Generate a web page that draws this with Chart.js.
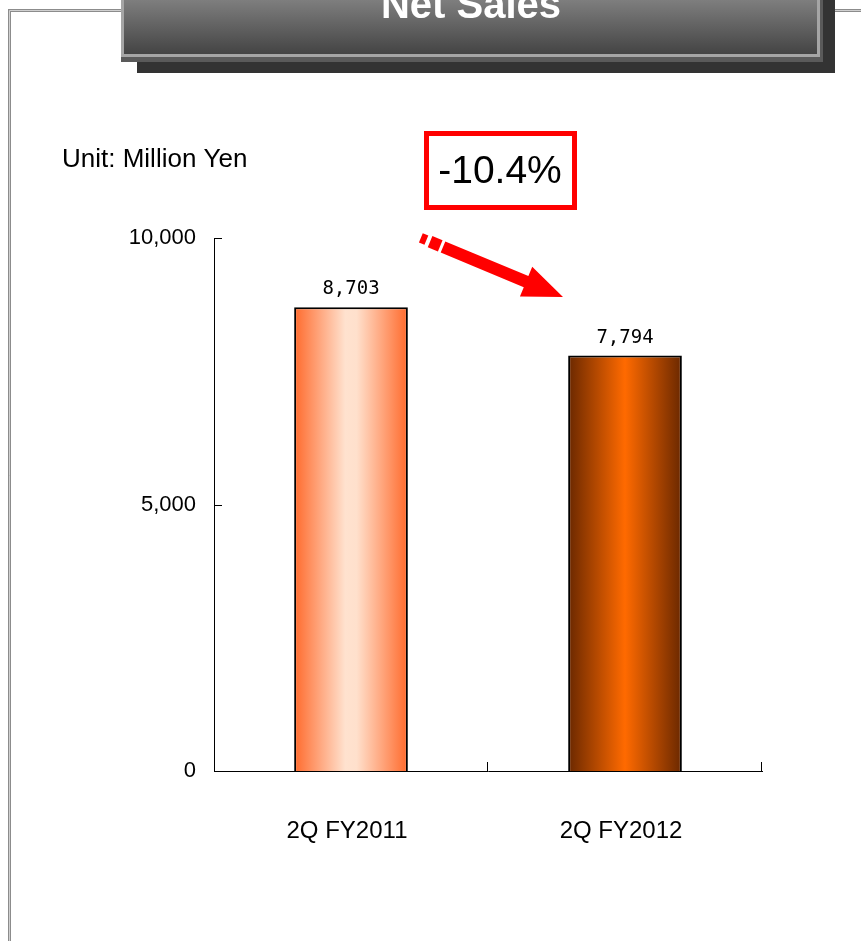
<!DOCTYPE html>
<html>
<head>
<meta charset="utf-8">
<script src="https://cdn.jsdelivr.net/npm/chart.js@4.4.0/dist/chart.umd.min.js"></script>
<style>
  html, body { margin: 0; padding: 0; background: #fff; }
  canvas { display: block; }
</style>
</head>
<body>
<canvas id="chart" width="861" height="941"></canvas>
<script>
// data
const categories = ['2Q FY2011', '2Q FY2012'];
const netSales = [8703, 7794];
const yTicks = [0, 5000, 10000];
const changeLabel = '-10.4%';
const unitLabel = 'Unit: Million Yen';
const titleText = 'Net Sales';

const ARIAL = "Arial, 'Liberation Sans', sans-serif";
const BAR_PCT = 0.415;

// horizontal cylinder-like gradients, one per bar
const barStops = [
  [[0, '#ff6a2c'], [0.45, '#ffe2cf'], [0.55, '#ffe0cc'], [1, '#ff6a2c']],
  [[0, '#6a2800'], [0.5, '#ff6a00'], [1, '#6a2800']]
];

function barFill(ctx) {
  const chart = ctx.chart;
  const x = chart.scales.x;
  if (!chart.chartArea || !x) return barStops[ctx.dataIndex][0][1];
  const cx = x.getPixelForValue(ctx.dataIndex);
  const half = (chart.chartArea.width / categories.length) * BAR_PCT / 2;
  const g = chart.ctx.createLinearGradient(cx - half, 0, cx + half, 0);
  barStops[ctx.dataIndex].forEach(s => g.addColorStop(s[0], s[1]));
  return g;
}

// frame + title banner + notes
const decorations = {
  id: 'decorations',
  beforeDraw(chart) {
    const c = chart.ctx;
    c.save();
    // outer frame
    c.strokeStyle = '#8c8c8c';
    c.lineWidth = 3;
    c.beginPath();
    c.moveTo(861, 10.5);
    c.lineTo(9.5, 10.5);
    c.lineTo(9.5, 941);
    c.stroke();
    c.strokeStyle = '#d0d0d0';
    c.lineWidth = 1;
    c.beginPath();
    c.moveTo(861, 10.5);
    c.lineTo(9.5, 10.5);
    c.lineTo(9.5, 941);
    c.stroke();

    // banner shadow + body
    c.fillStyle = '#333';
    c.fillRect(137, 0, 698, 73);
    c.fillStyle = '#5a5a5a';
    c.fillRect(121, 0, 702, 62);
    c.fillStyle = '#a5a5a5';
    c.fillRect(121, 0, 699, 57);
    const g = c.createLinearGradient(0, 0, 0, 54);
    g.addColorStop(0, '#7e7e7e');
    g.addColorStop(1, '#444');
    c.fillStyle = g;
    c.fillRect(124, 0, 693, 54);

    c.fillStyle = '#fff';
    c.font = 'bold 40px ' + ARIAL;
    c.textAlign = 'center';
    c.textBaseline = 'alphabetic';
    c.fillText(titleText, 471, 18);

    // unit
    c.fillStyle = '#000';
    c.font = '26px ' + ARIAL;
    c.textAlign = 'left';
    c.textBaseline = 'middle';
    c.fillText(unitLabel, 62, 160);

    // change box
    c.strokeStyle = '#ff0000';
    c.lineWidth = 5;
    c.strokeRect(426.5, 133.5, 148, 74);
    c.fillStyle = '#000';
    c.font = '39px ' + ARIAL;
    c.textAlign = 'center';
    c.fillText(changeLabel, 500, 172);

    // arrow
    const tip = [563, 297];
    const start = [443, 247];
    const dx = tip[0] - start[0], dy = tip[1] - start[1];
    const len = Math.hypot(dx, dy);
    const u = [dx / len, dy / len];
    const n = [-u[1], u[0]];
    const at = (t, w) => [start[0] + u[0] * t + n[0] * w, start[1] + u[1] * t + n[1] * w];
    const poly = pts => {
      c.beginPath();
      c.moveTo(pts[0][0], pts[0][1]);
      pts.slice(1).forEach(p => c.lineTo(p[0], p[1]));
      c.closePath();
      c.fill();
    };
    c.fillStyle = '#ff0000';
    const headBase = len - 40;
    poly([at(0, -6), at(headBase, -6), at(headBase, -16), at(len, 0), at(headBase, 16), at(headBase, 6), at(0, 6)]);
    poly([at(-14, -6), at(-3, -6), at(-3, 6), at(-14, 6)]);
    poly([at(-24, -5), at(-18, -5), at(-18, 5), at(-24, 5)]);
    c.restore();
  }
};

// inward tick marks + value labels
const marks = {
  id: 'marks',
  afterDatasetsDraw(chart) {
    const c = chart.ctx;
    const x = chart.scales.x, y = chart.scales.y;
    const area = chart.chartArea;
    c.save();
    c.strokeStyle = '#000';
    c.lineWidth = 1;
    c.beginPath();
    yTicks.forEach(v => {
      const py = Math.round(y.getPixelForValue(v)) + 0.5;
      if (v === 0) return;
      c.moveTo(area.left, py);
      c.lineTo(area.left + 8, py);
    });
    const catW = area.width / categories.length;
    categories.forEach((_, i) => {
      const px = Math.round(x.getPixelForValue(i) + catW / 2) - 0.5;
      c.moveTo(px, area.bottom);
      c.lineTo(px, area.bottom - 9);
    });
    c.stroke();

    const meta = chart.getDatasetMeta(0);
    c.fillStyle = '#000';
    c.font = "19px 'DejaVu Sans Mono', monospace";
    c.textAlign = 'center';
    c.textBaseline = 'middle';
    meta.data.forEach((bar, i) => {
      c.fillText(netSales[i].toLocaleString('en-US'), bar.x, bar.y - 18);
    });
    c.restore();
  }
};

new Chart(document.getElementById('chart'), {
  type: 'bar',
  data: {
    labels: categories,
    datasets: [{
      data: netSales,
      backgroundColor: barFill,
      borderColor: '#000',
      borderWidth: 2,
      barPercentage: BAR_PCT,
      categoryPercentage: 1
    }]
  },
  options: {
    responsive: false,
    animation: false,
    layout: { padding: { top: 238, right: 99, bottom: 0, left: 0 } },
    plugins: { legend: { display: false }, tooltip: { enabled: false } },
    scales: {
      x: {
        grid: { display: false, drawTicks: false },
        border: { display: true, color: '#000', width: 1 },
        ticks: { color: '#000', padding: 46, labelOffset: -4, font: { family: ARIAL, size: 24 } },
        afterFit: s => { s.height = 170; }
      },
      y: {
        min: 0,
        max: 10000,
        afterBuildTicks: s => { s.ticks = yTicks.map(v => ({ value: v })); },
        grid: { display: false, drawTicks: false },
        border: { display: true, color: '#000', width: 1 },
        ticks: {
          color: '#000',
          padding: 18,
          font: { family: ARIAL, size: 22 },
          callback: v => v.toLocaleString('en-US')
        },
        afterFit: s => { s.width = 214; }
      }
    }
  },
  plugins: [decorations, marks]
});
</script>
</body>
</html>
